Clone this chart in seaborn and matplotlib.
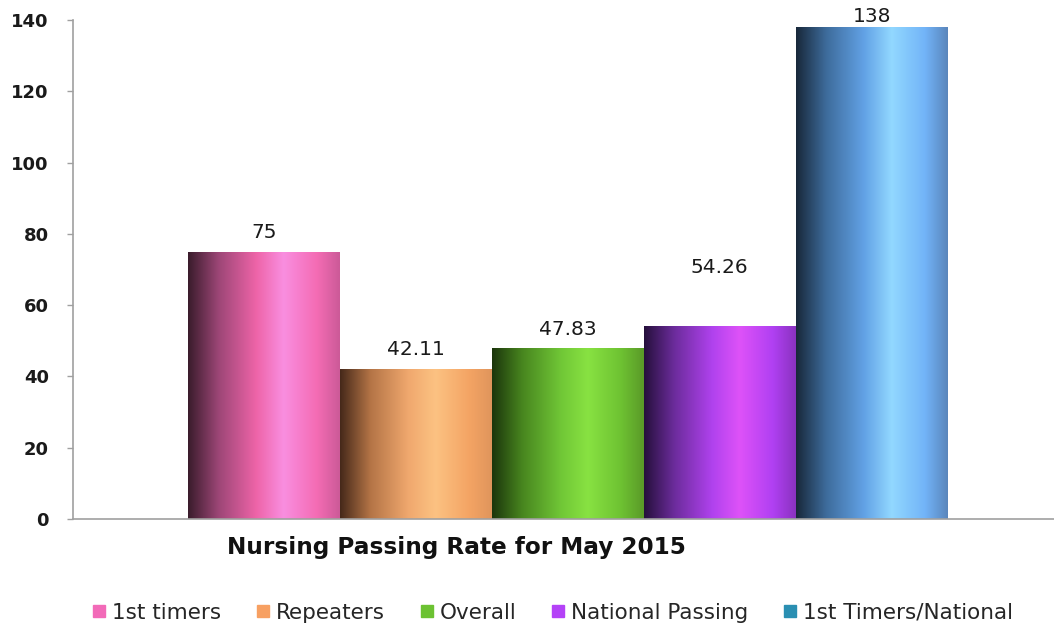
import numpy as np
import pandas as pd
import matplotlib
matplotlib.use("Agg")
import matplotlib.pyplot as plt
from matplotlib.colors import LinearSegmentedColormap
from matplotlib.lines import Line2D
import seaborn as sns

# data
categories = ["1st timers", "Repeaters", "Overall", "National Passing", "1st Timers/National"]
values = [75, 42.11, 47.83, 54.26, 138]
value_labels = ["75", "42.11", "47.83", "54.26", "138"]

# solid colours used in the legend
legend_colors = ["#f26ab8", "#f7a062", "#6cc232", "#b442f7", "#2a8fb2"]

# shaded bar gradients, dark left edge -> highlight -> slightly darker right edge
gradients = [
    ["#3a1c2c", "#9c4676", "#ee64a8", "#f98ee0", "#f46cb4", "#cc5a98"],
    ["#46291a", "#b47446", "#f0a86e", "#fcc282", "#f4a464", "#e0955c"],
    ["#1c360c", "#48861f", "#70c636", "#88e242", "#6ec232", "#5a9a28"],
    ["#26103c", "#6c2c9c", "#b042ee", "#de52f8", "#b040f2", "#8a32c0"],
    ["#18283a", "#3e6c9c", "#62a2e6", "#92d8ff", "#72b4f8", "#5a86bc"],
]
grad_stops = [0.0, 0.2, 0.45, 0.63, 0.85, 1.0]

# label offsets above the bar top, in points
label_offsets = [7, 7, 7, 35, 1]

df = pd.DataFrame({"category": categories, "value": values})

sns.set_theme(style="white")
plt.rcParams["font.family"] = ["DejaVu Sans"]

fig = plt.figure(figsize=(10.54, 6.28), dpi=100)
ax = fig.add_axes([0.0693, 0.1736, 0.9307, 0.7946])

sns.barplot(data=df, x="category", y="value", hue="category",
            palette=legend_colors, width=1.0, legend=False, ax=ax,
            edgecolor="none", linewidth=0)

for i, patch in enumerate(ax.patches):
    x0 = patch.get_x()
    w = patch.get_width()
    h = patch.get_height()
    cmap = LinearSegmentedColormap.from_list(f"g{i}", list(zip(grad_stops, gradients[i])))
    grad = np.linspace(0, 1, 256).reshape(1, -1)
    im = ax.imshow(grad, cmap=cmap, extent=[x0, x0 + w, 0, h],
                   aspect="auto", origin="lower", zorder=patch.get_zorder() + 0.1)
    im.set_clip_path(patch)
    ax.annotate(value_labels[i], (x0 + w / 2, h), xytext=(0, label_offsets[i]),
                textcoords="offset points", ha="center", va="bottom",
                fontsize=14.5, color="#1a1a1a")

ax.set_xlim(-1.257, 5.2)
ax.set_ylim(0, 140)
ax.set_yticks(range(0, 141, 20))
ax.set_xticks([])
ax.set_xlabel("")
ax.set_ylabel("")
ax.tick_params(axis="y", left=True, length=4.5, width=1, color="#a0a0a0",
               labelsize=13, pad=13, labelcolor="#1a1a1a")
for t in ax.get_yticklabels():
    t.set_fontweight("bold")
sns.despine(ax=ax, top=True, right=True)
ax.spines["left"].set_color("#a0a0a0")
ax.spines["bottom"].set_color("#a0a0a0")
ax.spines["left"].set_linewidth(1.2)
ax.spines["bottom"].set_linewidth(1.2)

fig.text(0.433, 0.128, "Nursing Passing Rate for May 2015", ha="center", va="center",
         fontsize=16.7, fontweight="bold", color="#111111")

handles = [Line2D([], [], marker="s", linestyle="none", markersize=8.5,
                  markerfacecolor=c, markeredgecolor=c) for c in legend_colors]
fig.legend(handles, categories, loc="center", bbox_to_anchor=(0.524, 0.024),
           ncol=5, frameon=False, fontsize=15.5, handletextpad=0.25,
           columnspacing=1.6, handlelength=0.7, borderaxespad=0, borderpad=0)

fig.savefig("out.png", dpi=100)
